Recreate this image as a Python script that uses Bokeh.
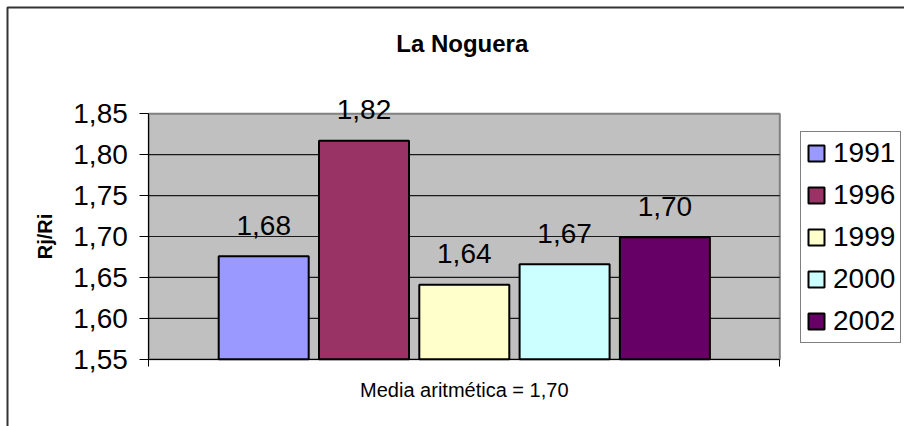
import numpy as np
from bokeh.plotting import figure
from bokeh.models import (Range1d, LinearAxis, FixedTicker, Grid, Legend, LegendItem,
                          ColumnDataSource, CustomJSTickFormatter)
from bokeh.core.properties import value
from bokeh.embed import file_html
from bokeh.resources import INLINE

# ---------------- data ----------------
title_text = "La Noguera"
y_axis_title = "Rj/Ri"
years = ["1991", "1996", "1999", "2000", "2002"]
ratios = [1.676, 1.817, 1.641, 1.666, 1.699]
colors = ["#9999FF", "#993366", "#FFFFCC", "#CCFFFF", "#660066"]
y_ticks = [1.55, 1.60, 1.65, 1.70, 1.75, 1.80, 1.85]


def es(v):
    return f"{v:.2f}".replace(".", ",")


mean_val = sum(ratios) / len(ratios)
x_label = f"Media aritmética = {es(mean_val)}"

# ---------------- layout (canvas pixels) ----------------
W, H = 904, 426
PLOT_LEFT = 148.3        # canvas x of plot-area left edge
PLOT_W = 631.0           # plot-area width in px
PLOT_TOP = 113.3         # canvas y of top value
PLOT_BOTTOM = 358.7      # canvas y of bottom value
BAR_PITCH = 100.3
BAR_W = 90.0
FONT = "Liberation Sans"

y_lo, y_hi = y_ticks[0], y_ticks[-1]
ppu = (PLOT_BOTTOM - PLOT_TOP) / (y_hi - y_lo)


def cy(py):  # canvas y (px from top) -> data y
    return y_hi + (PLOT_TOP - py) / ppu


def cx(px):  # canvas x -> data x
    return px - PLOT_LEFT


x_range = Range1d(cx(0), cx(W))
y_range = Range1d(cy(H), cy(0))

p = figure(width=W, height=H, x_range=x_range, y_range=y_range,
           toolbar_location=None, output_backend="svg", min_border=0,
           x_axis_location=None, y_axis_location=None, title=None,
           outline_line_color=None, background_fill_color="white",
           border_fill_color="white")
# drop any default grids
p.center = [r for r in p.center if not isinstance(r, Grid)]

# plot-area background
bg = p.quad(left=[0], right=[PLOT_W], bottom=[y_lo], top=[y_hi],
            fill_color="#C0C0C0", line_color="#808080", line_width=2)

# gridlines (inner ticks)
grid_vals = y_ticks[1:-1]
p.segment(x0=[0] * len(grid_vals), x1=[PLOT_W] * len(grid_vals),
          y0=grid_vals, y1=grid_vals, line_color="#1a1a1a", line_width=1.2)

# bars
n = len(years)
xs = [PLOT_W / 2 + (i - (n - 1) / 2) * BAR_PITCH for i in range(n)]
src = ColumnDataSource(dict(x=xs, top=ratios, color=colors, year=years,
                            label=[es(v) for v in ratios]))
bars = p.vbar(x="x", top="top", bottom=y_lo, width=BAR_W, fill_color="color",
              line_color="black", line_width=2, source=src)

# value labels
p.text(x="x", y="top", text="label", source=src,
       text_font=value(FONT), text_font_size=value("28px"),
       text_align="center", text_baseline="alphabetic", y_offset=-31,
       text_color="black")

# y axis
yax = LinearAxis(fixed_location=0, bounds=(y_lo, y_hi),
                 ticker=FixedTicker(ticks=y_ticks),
                 formatter=CustomJSTickFormatter(code="return tick.toFixed(2).replace('.', ',');"))
yax.axis_line_color = "black"
yax.axis_line_width = 1
yax.major_tick_out = 9
yax.major_tick_in = 0
yax.minor_tick_out = 0
yax.minor_tick_in = 0
yax.major_tick_line_color = "black"
yax.major_label_standoff = 12
yax.major_label_text_font = FONT
yax.major_label_text_font_size = "28px"
yax.major_label_text_color = "black"
p.add_layout(yax, "left")

# x axis
xax = LinearAxis(fixed_location=y_lo, bounds=(0, PLOT_W),
                 ticker=FixedTicker(ticks=[0, PLOT_W]),
                 formatter=CustomJSTickFormatter(code="return '';"))
xax.axis_line_color = "black"
xax.axis_line_width = 1
xax.major_tick_out = 7
xax.major_tick_in = 0
xax.minor_tick_out = 0
xax.minor_tick_in = 0
xax.major_tick_line_color = "black"
p.add_layout(xax, "below")

# titles / texts
p.text(x=[PLOT_W / 2 - 2], y=[cy(43)], text=[title_text],
       text_font=value(FONT), text_font_size=value("24px"), text_font_style="bold",
       text_align="center", text_baseline="alphabetic", text_color="black")
p.text(x=[PLOT_W / 2], y=[cy(389)], text=[x_label],
       text_font=value(FONT), text_font_size=value("20px"),
       text_align="center", text_baseline="alphabetic", text_color="black")
p.text(x=[cx(44)], y=[(y_lo + y_hi) / 2], text=[y_axis_title], angle=np.pi / 2,
       text_font=value(FONT), text_font_size=value("20px"), text_font_style="bold",
       text_align="center", text_baseline="middle", text_color="black")

# outer chart border (left and top edges; right/bottom fall outside the view)
p.line(x=[x_range.end + 20, cx(7), cx(7)],
       y=[cy(7), cy(7), y_range.start - 1],
       line_color="#333333", line_width=2)

# legend
items = [LegendItem(label=years[i], renderers=[bars], index=i) for i in range(n)]
legend = Legend(items=items, location=(800, 83))
legend.label_text_font = FONT
legend.label_text_font_size = "28px"
legend.label_text_color = "black"
legend.glyph_width = 20
legend.glyph_height = 20
legend.label_standoff = 7
legend.label_height = 20
legend.spacing = 10
legend.padding = 5
legend.margin = 0
legend.border_line_color = "black"
legend.border_line_width = 1
legend.background_fill_color = "white"
legend.background_fill_alpha = 1
legend.label_text_baseline = "middle"
p.add_layout(legend)

open("out.html", "w").write(file_html(p, INLINE))
